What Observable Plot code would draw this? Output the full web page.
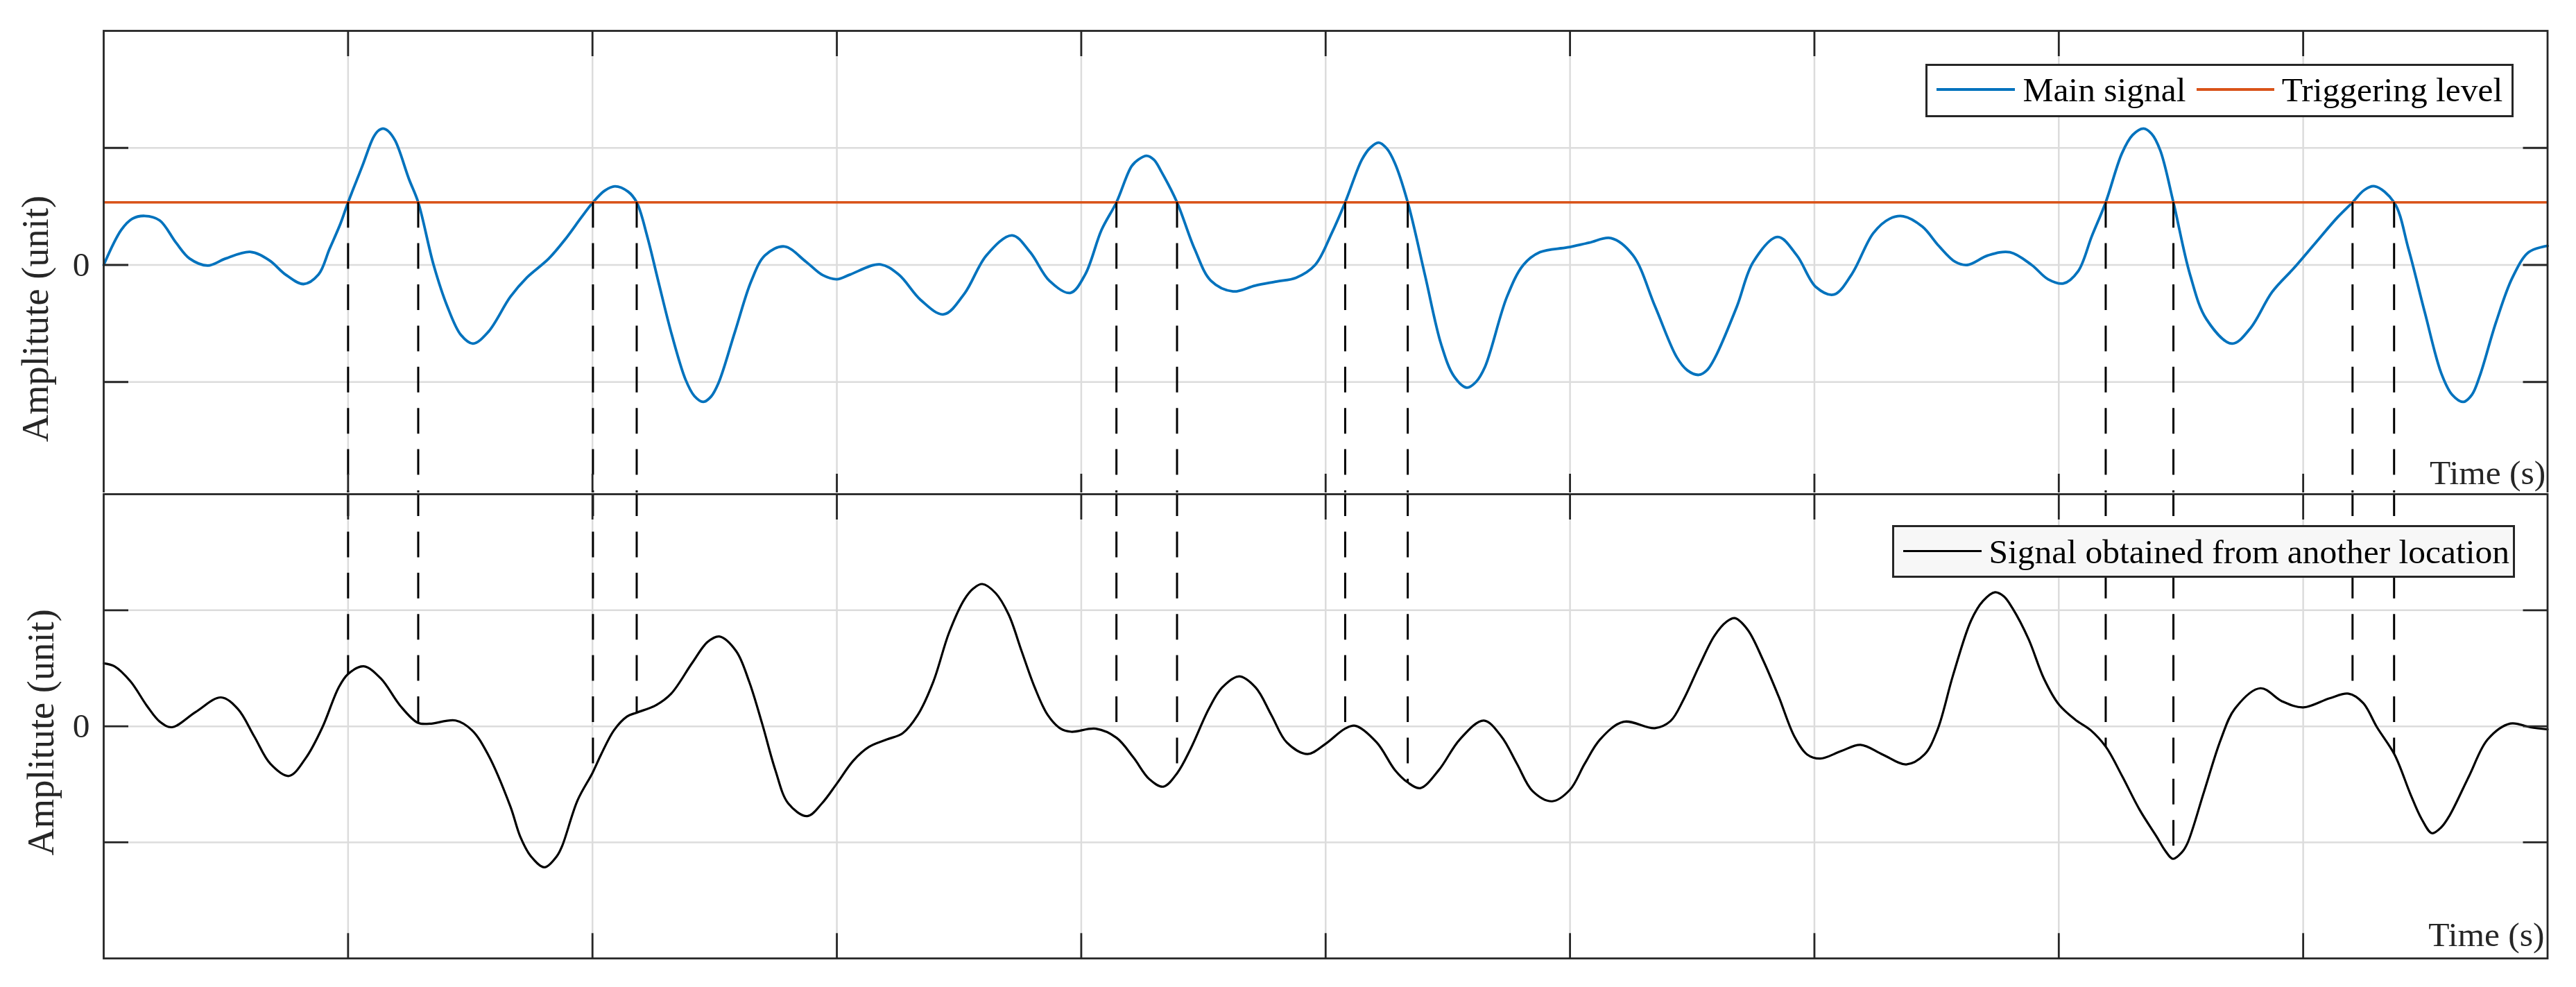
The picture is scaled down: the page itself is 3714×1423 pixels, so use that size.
<!DOCTYPE html>
<html>
<head>
<meta charset="utf-8">
<script src="https://cdn.jsdelivr.net/npm/d3@7"></script>
<script src="https://cdn.jsdelivr.net/npm/@observablehq/plot@0.6"></script>
<style>
  html, body { margin: 0; padding: 0; background: #fff; overflow: hidden; }
  #wrap { position: relative; width: 3714px; height: 1423px; overflow: hidden; background: #fff;
          font-family: "Liberation Serif", "Times New Roman", serif; }
  #top, #bottom { position: absolute; left: 0; }
  #top { top: 0; }
  #bottom { top: 710px; background: #fff; }
  .abs { position: absolute; }
  .lgbox { position: absolute; box-sizing: border-box; border: 3px solid #262626; }
  .lgtext { position: absolute; font-size: 49.5px; line-height: 49.5px; white-space: nowrap; color: #000; }
</style>
</head>
<body>
<div id="wrap">
  <div id="top"></div>
  <div id="bottom"></div>
</div>
<script>
// ---------------- data ----------------
const xTicks = [1, 2, 3, 4, 5, 6, 7, 8, 9];
const yTicks = [-1, 0, 1];
const yTickLabels = ["", "0", ""];
const yLabel = "Amplitute (unit)";
const xLabel = "Time (s)";
const legendTop = ["Main signal", "Triggering level"];
const legendBottom = ["Signal obtained from another location"];

const triggerLevel = 0.535;
const crossTimes = [1.0, 1.287, 2.002, 2.181, 4.144, 4.392, 5.080, 5.336, 8.192, 8.469, 9.202, 9.372];

const timeMain = [0, 0.072, 0.117, 0.168, 0.229, 0.296, 0.352, 0.426, 0.498, 0.599, 0.677, 0.744, 0.818, 0.879, 0.924, 0.969,
  1.0, 1.058, 1.103, 1.123, 1.143, 1.163, 1.193, 1.249, 1.287, 1.350, 1.406, 1.462, 1.511, 1.574, 1.664, 1.731, 1.821, 1.888, 1.955,
  2.002, 2.050, 2.092, 2.146, 2.181, 2.224, 2.269, 2.325, 2.381, 2.417, 2.453, 2.485, 2.516, 2.583, 2.650, 2.706, 2.785, 2.874, 2.942,
  3.0, 3.054, 3.175, 3.253, 3.343, 3.437, 3.522, 3.612, 3.717, 3.791, 3.870, 3.955,
  4.016, 4.083, 4.144, 4.206, 4.237, 4.267, 4.297, 4.330, 4.392, 4.464, 4.531, 4.621, 4.711, 4.800, 4.879, 4.957,
  5.025, 5.080, 5.148, 5.182, 5.217, 5.250, 5.283, 5.336, 5.406, 5.473, 5.525, 5.578, 5.615, 5.652, 5.742, 5.809, 5.877, 5.989,
  6.078, 6.168, 6.258, 6.348, 6.437, 6.480, 6.527, 6.560, 6.594, 6.683, 6.750, 6.850, 6.928,
  7.007, 7.080, 7.152, 7.241, 7.308, 7.364, 7.442, 7.509, 7.576, 7.626, 7.711, 7.800, 7.889, 7.956,
  8.019, 8.079, 8.135, 8.192, 8.258, 8.302, 8.347, 8.380, 8.415, 8.469, 8.537, 8.604, 8.709, 8.783, 8.873, 8.962,
  9.051, 9.141, 9.202, 9.250, 9.293, 9.372, 9.431, 9.498, 9.565, 9.610, 9.655, 9.690, 9.722, 9.789, 9.856, 9.923, 10.0];
const ampMain = [0, 0.30, 0.395, 0.419, 0.381, 0.190, 0.054, -0.005, 0.054, 0.112, 0.041, -0.082, -0.163, -0.082, 0.136, 0.354,
  0.535, 0.844, 1.088, 1.146, 1.165, 1.146, 1.061, 0.735, 0.535, 0.0, -0.354, -0.599, -0.672, -0.571, -0.272, -0.109, 0.054, 0.218, 0.408,
  0.535, 0.635, 0.672, 0.626, 0.535, 0.245, -0.136, -0.599, -0.980, -1.120, -1.170, -1.125, -1.007, -0.571, -0.136, 0.082, 0.158, 0.027, -0.087,
  -0.122, -0.082, 0.005, -0.082, -0.299, -0.422, -0.245, 0.082, 0.253, 0.109, -0.136, -0.239,
  -0.082, 0.299, 0.535, 0.844, 0.905, 0.933, 0.900, 0.789, 0.535, 0.136, -0.136, -0.226, -0.177, -0.141, -0.109, 0.0,
  0.272, 0.535, 0.898, 1.000, 1.045, 0.995, 0.871, 0.535, -0.082, -0.680, -0.950, -1.048, -1.000, -0.871, -0.272, 0.0, 0.109, 0.150,
  0.190, 0.229, 0.082, -0.354, -0.789, -0.900, -0.939, -0.900, -0.789, -0.354, 0.027, 0.239, 0.082,
  -0.190, -0.253, -0.082, 0.272, 0.395, 0.416, 0.327, 0.163, 0.027, 0.0, 0.082, 0.109, 0.0, -0.122,
  -0.158, -0.054, 0.245, 0.535, 0.952, 1.110, 1.165, 1.120, 0.980, 0.535, -0.082, -0.463, -0.672, -0.544, -0.231, -0.027,
  0.190, 0.408, 0.535, 0.640, 0.672, 0.535, 0.136, -0.408, -0.925, -1.110, -1.170, -1.110, -0.952, -0.490, -0.109, 0.109, 0.163];

const timeOther = [0, 0.044, 0.110, 0.177, 0.230, 0.279, 0.376, 0.480, 0.549, 0.616, 0.682, 0.758, 0.828, 0.895, 0.961,
  1.0, 1.064, 1.134, 1.214, 1.285, 1.334, 1.440, 1.507, 1.573, 1.664, 1.705, 1.748, 1.804, 1.854, 1.876, 1.939,
  2.0, 2.035, 2.088, 2.141, 2.181, 2.259, 2.322, 2.407, 2.471, 2.519, 2.588, 2.641, 2.695, 2.748, 2.801, 2.879, 2.939,
  3.0, 3.067, 3.131, 3.205, 3.269, 3.331, 3.395, 3.459, 3.522, 3.560, 3.595, 3.650, 3.703, 3.756, 3.810, 3.863, 3.916, 3.959,
  4.060, 4.145, 4.214, 4.278, 4.336, 4.393, 4.448, 4.522, 4.576, 4.646, 4.714, 4.778, 4.841, 4.926, 4.999,
  5.079, 5.121, 5.209, 5.283, 5.334, 5.387, 5.464, 5.549, 5.647, 5.719, 5.783, 5.847, 5.927,
  6.0, 6.060, 6.123, 6.219, 6.347, 6.411, 6.464, 6.528, 6.591, 6.640, 6.674, 6.727, 6.790, 6.854, 6.918, 6.971,
  7.024, 7.110, 7.189, 7.280, 7.376, 7.450, 7.503, 7.567, 7.641, 7.690, 7.739, 7.775, 7.811, 7.876, 7.939,
  8.0, 8.067, 8.131, 8.193, 8.259, 8.331, 8.401, 8.435, 8.467, 8.504, 8.527, 8.595, 8.663, 8.720, 8.825, 8.914,
  9.0, 9.108, 9.186, 9.245, 9.302, 9.374, 9.439, 9.485, 9.527, 9.565, 9.599, 9.679, 9.755, 9.848, 9.929, 10.0];
const ampOther = [0.543, 0.517, 0.386, 0.176, 0.039, -0.008, 0.123, 0.249, 0.150, -0.087, -0.323, -0.428, -0.270, -0.008, 0.333,
  0.451, 0.517, 0.412, 0.176, 0.031, 0.022, 0.050, -0.034, -0.244, -0.690, -0.953, -1.120, -1.215, -1.120, -1.031, -0.638,
  -0.402, -0.244, -0.034, 0.084, 0.118, 0.181, 0.281, 0.543, 0.727, 0.774, 0.648, 0.386, 0.018, -0.375, -0.664, -0.774, -0.664,
  -0.493, -0.297, -0.178, -0.113, -0.060, 0.097, 0.386, 0.806, 1.094, 1.190, 1.226, 1.147, 0.963, 0.648, 0.333, 0.097, -0.021, -0.047,
  -0.021, -0.100, -0.270, -0.454, -0.520, -0.402, -0.192, 0.150, 0.333, 0.430, 0.333, 0.097, -0.139, -0.239, -0.152,
  -0.021, 0.005, -0.139, -0.375, -0.480, -0.533, -0.375, -0.113, 0.050, -0.087, -0.323, -0.559, -0.646,
  -0.546, -0.323, -0.113, 0.039, -0.016, 0.045, 0.228, 0.517, 0.780, 0.900, 0.932, 0.832, 0.570, 0.255, -0.087, -0.244,
  -0.278, -0.213, -0.160, -0.244, -0.328, -0.244, -0.034, 0.438, 0.911, 1.080, 1.155, 1.120, 1.016, 0.753, 0.412,
  0.189, 0.058, -0.034, -0.178, -0.428, -0.720, -0.953, -1.070, -1.142, -1.085, -1.005, -0.559, -0.113, 0.150, 0.328, 0.215,
  0.163, 0.241, 0.281, 0.202, -0.008, -0.244, -0.585, -0.800, -0.921, -0.870, -0.769, -0.428, -0.113, 0.024, -0.008, -0.026];

// ---------------- derived tables ----------------
const mainData = timeMain.map((t, i) => ({t, v: ampMain[i]}));
const otherData = timeOther.map((t, i) => ({t, v: ampOther[i]}));
function otherAt(t) {
  let i = d3.bisectRight(timeOther, t) - 1;
  i = Math.max(0, Math.min(i, timeOther.length - 2));
  const t0 = timeOther[i], t1 = timeOther[i + 1];
  const f = (t - t0) / (t1 - t0);
  return ampOther[i] + f * (ampOther[i + 1] - ampOther[i]);
}
const crossData = crossTimes.map(t => ({t, vb: otherAt(t)}));

// ---------------- styles ----------------
const FONT = "'Liberation Serif', 'Times New Roman', serif";
const frameColor = "#262626";
const gridColor = "#dcdcdc";
const blue = "#0072BD", orange = "#D95319";
const DASH = [37, 22.4];
const W = 3714;
const common = {
  width: W, marginLeft: 149, marginRight: 41.5,
  x: {domain: [0, 10]}, y: {domain: [-2, 2]},
  style: {fontFamily: FONT, fontSize: "49.5px", background: "transparent", overflow: "visible"}
};
const tickOpts = {tickSize: -36, fill: "none", stroke: frameColor, strokeWidth: 2.8, strokeLinecap: "butt"};
const gridOpts = {stroke: gridColor, strokeOpacity: 1, strokeWidth: 2.5};

function panelDecor(labelDx, labelDy, xlDx, xlDy) {
  return [
    Plot.frame({stroke: frameColor, strokeWidth: 2.8}),
    Plot.axisX(xTicks, {anchor: "top", ...tickOpts}),
    Plot.axisX(xTicks, {anchor: "bottom", ...tickOpts}),
    Plot.axisY(yTicks, {anchor: "left", ...tickOpts}),
    Plot.axisY(yTicks, {anchor: "right", ...tickOpts}),
    Plot.axisY(yTicks, {anchor: "left", tickSize: 0, tickPadding: 20, label: null,
      tickFormat: d => yTickLabels[yTicks.indexOf(d)], fontSize: 49.5, fill: frameColor}),
    Plot.text([yLabel], {text: d => d, frameAnchor: "left", rotate: -90, textAnchor: "middle", lineAnchor: "middle",
      dx: labelDx, dy: labelDy, fontSize: 54.45, fill: frameColor}),
    Plot.text([xLabel], {text: d => d, frameAnchor: "bottom-right", textAnchor: "end", lineAnchor: "bottom",
      dx: xlDx, dy: xlDy, fontSize: 49.5, fill: frameColor})
  ];
}

const topPlot = Plot.plot({
  ...common, height: 720, marginTop: 44, marginBottom: 1,
  marks: [
    Plot.gridX(xTicks, gridOpts),
    Plot.gridY(yTicks, gridOpts),
    Plot.line(mainData, {x: "t", y: "v", stroke: blue, strokeWidth: 3.8, curve: "catmull-rom"}),
    Plot.ruleY([triggerLevel], {stroke: orange, strokeWidth: 3.6}),
    Plot.ruleX(crossData, {x: "t", y1: triggerLevel, y2: -2, stroke: "#000", strokeWidth: 3,
      strokeDasharray: DASH.join(","), strokeLinecap: "butt"}),
    ...panelDecor(-98, 77.5, -2.7, -21.1)
  ]
});
document.getElementById("top").appendChild(topPlot);

// continue the dash pattern across the two panels
const bottomTop = 710, bottomMarginTop = 2;
const startTop = topPlot.scale("y").apply(triggerLevel);
const period = DASH[0] + DASH[1];
const dashOffset = ((bottomTop + bottomMarginTop) - startTop) % period;

const bottomPlot = Plot.plot({
  ...common, height: 713, marginTop: bottomMarginTop, marginBottom: 41.7,
  marks: [
    Plot.gridX(xTicks, gridOpts),
    Plot.gridY(yTicks, gridOpts),
    Plot.ruleX(crossData, {x: "t", y1: 2, y2: "vb", stroke: "#000", strokeWidth: 3,
      strokeDasharray: DASH.join(","), strokeDashoffset: dashOffset, strokeLinecap: "butt"}),
    Plot.line(otherData, {x: "t", y: "v", stroke: "#000", strokeWidth: 3.2, curve: "catmull-rom"}),
    ...panelDecor(-90.2, 8.7, -4.5, -17.6)
  ]
});
document.getElementById("bottom").appendChild(bottomPlot);

// ---------------- legends (HTML overlay) ----------------
const wrap = document.getElementById("wrap");
function el(cls, css, text) {
  const d = document.createElement("div");
  d.className = cls;
  Object.assign(d.style, css);
  if (text != null) d.textContent = text;
  wrap.appendChild(d);
  return d;
}
// top legend
el("lgbox", {left: "2776px", top: "91.7px", width: "848.2px", height: "77.4px", background: "#fff"});
el("abs", {left: "2792px", top: "127px", width: "113px", height: "3.8px", background: blue});
el("lgtext", {left: "2916.4px", top: "105.4px"}, legendTop[0]);
el("abs", {left: "3167px", top: "127px", width: "112px", height: "3.8px", background: orange});
el("lgtext", {left: "3289.8px", top: "105.4px"}, legendTop[1]);
// bottom legend
el("lgbox", {left: "2727.5px", top: "757px", width: "898.5px", height: "75.7px", background: "#f7f7f7"});
el("abs", {left: "2744px", top: "793px", width: "113px", height: "3.2px", background: "#000"});
el("lgtext", {left: "2867.5px", top: "770.7px"}, legendBottom[0]);
</script>
</body>
</html>
